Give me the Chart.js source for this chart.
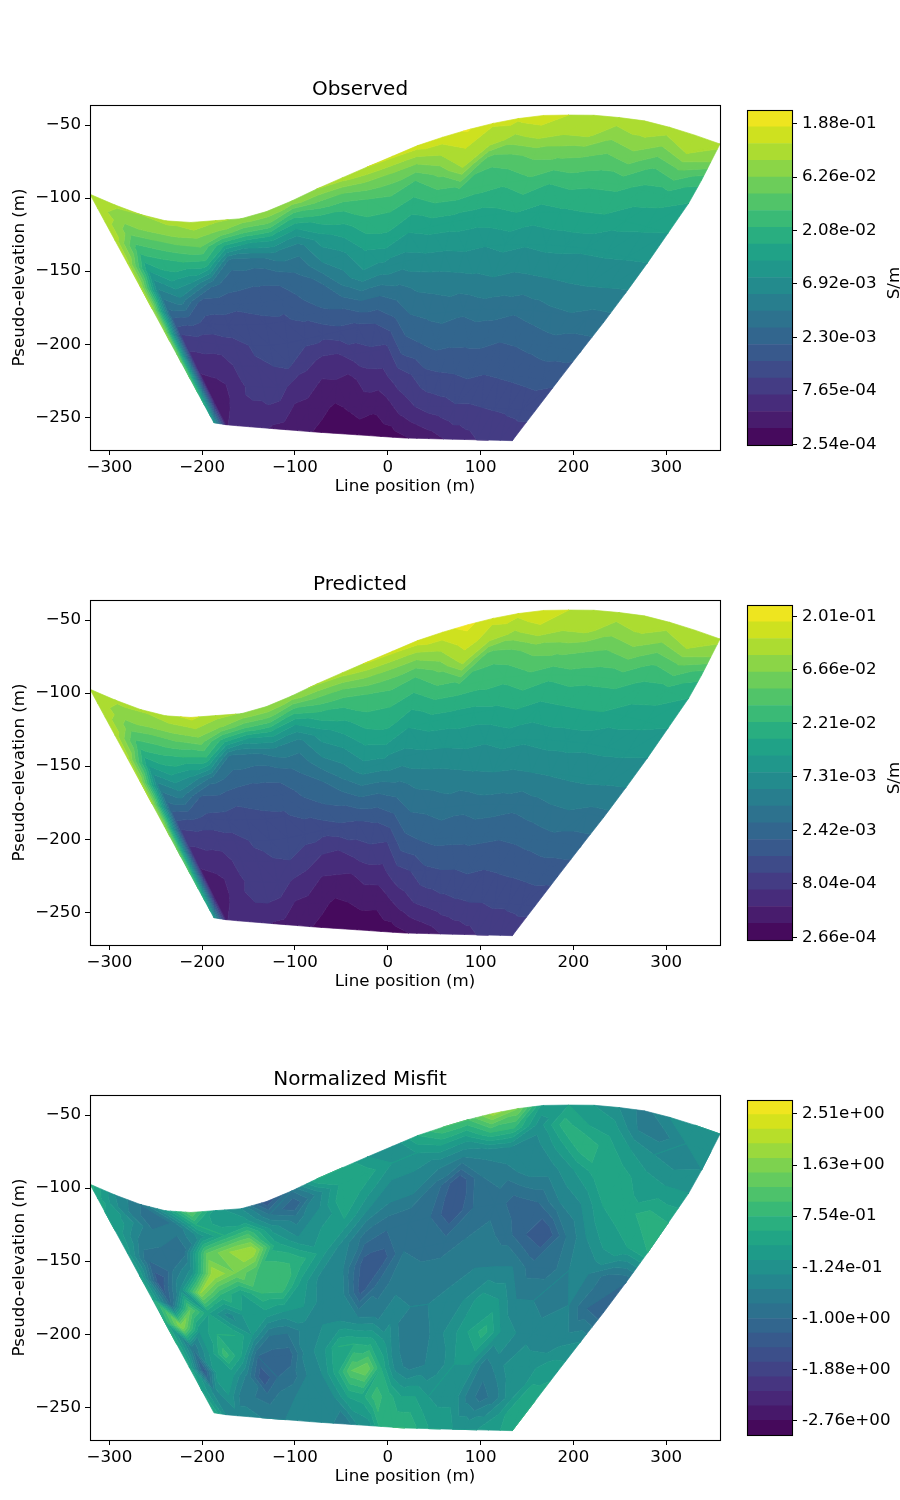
<!DOCTYPE html>
<html><head><meta charset="utf-8">
<style>html,body{margin:0;padding:0;background:#fff;width:900px;height:1500px;overflow:hidden}canvas{position:absolute}</style>
<script src="https://cdn.jsdelivr.net/npm/chart.js@4"></script>
</head><body>
<script>
// Outline of the surveyed area (metres)
const topX=[-320.9,-283,-249,-217,-153,-120,-75,-28,18.5,38,81,128,171,220,270,315,358];
const topY=[-97.4,-107.7,-115,-116.9,-113.9,-107,-93.3,-80.3,-67.8,-62.5,-54.1,-46.6,-43.2,-43.2,-46.1,-53.4,-63];
const bottomX=[-187.3,-172,-82,18.5,134.2];
const bottomY=[-253.8,-255.3,-259.9,-264.2,-266];
const rightX=[358,329,280.7,243,198,134.2];
const rightY=[-63,-99.1,-143.6,-176.6,-213.1,-266];
const depthFractions=[0,.06,.12,.2,.3,.4,.5,.6,.7,.8,.9,1];
const xTicks=[-300,-200,-100,0,100,200,300];
const yTicks=[-50,-100,-150,-200,-250];
const titles=['Observed','Predicted','Normalized Misfit'];
const obsTickLabels=['2.54e-04','7.65e-04','2.30e-03','6.92e-03','2.08e-02','6.26e-02','1.88e-01'];
const predTickLabels=['2.66e-04','8.04e-04','2.42e-03','7.31e-03','2.21e-02','6.66e-02','2.01e-01'];
const misfitTickLabels=['-2.76e+00','-1.88e+00','-1.00e+00','-1.24e-01','7.54e-01','1.63e+00','2.51e+00'];
const viridis=['#440154','#471365','#482475','#463480','#414487','#3b528b','#355f8d','#2f6c8e','#2a788e','#25848e','#21918c','#1e9c89','#22a884','#2fb47c','#44bf70','#5ec962','#7ad151','#9bd93c','#bddf26','#dfe318','#fde725'];
// Field values per survey column, top to bottom, as contour-level numbers
const observedLevels=[
[17.2,17.4,17.6,17.6,17.4,17.2,17,16.4,15.5,14.2,12.5,10.5],
[17.2,16.4,15.4,13.5,11,8.6,6.4,3.8,2.6,1.7,1.5,1.9],
[17,16.5,15,13.2,11.4,8.8,5.5,3.6,2.6,1.8,1.9,2.4],
[17.3,16.4,14.9,13,10,5.6,4.6,3.4,2.6,2.2,2.7,2.9],
[18,16.4,15,12.6,7.2,5.4,4.6,3.6,3.4,3.2,2.9,2.3],
[17.2,15.7,12,7.3,6.5,5.2,4.7,4.1,3.9,3.5,2.9,1.8],
[16.8,14.3,10.8,7.4,6.2,5.3,4.8,4.6,4,3.5,2.7,1.6],
[16.9,14.7,11.5,8.5,6.5,5.2,4.9,4.6,4.1,2.7,1.8,1.4],
[16.8,13.5,11,8.5,7.2,6.3,5.2,4.3,3.3,2.5,1.6,1.1],
[17,14.7,12.6,10.6,9,6.8,5.9,4.3,2.8,1.8,1.3,.7],
[17.5,15,13.2,11.6,9.8,8.5,6.2,4.7,2.8,1.9,.8,.3],
[18,15.8,14,12.8,11.2,9.8,7,4.7,3.5,1.7,1.1,.4],
[18.2,16,14.4,13,11.6,9.6,7,5,3.8,2.5,1.4,.5],
[18.5,16.1,14,12.6,11,9.5,7.6,5.8,3.8,2.6,1.2,.4],
[18.6,17,15.3,13.4,11.4,9.8,8.2,6.9,5.5,3.4,1.7,.5],
[19.1,18,17.1,13.6,11.5,9.9,8.4,7.2,5.9,3.9,2.5,.6],
[18.1,17.5,14.3,13.4,11.5,10.1,8.6,7.4,6.3,4.7,3,.9],
[18.2,16.7,14.7,13.2,11.7,10,8.8,7.2,6.2,4.9,3.4,1.2],
[18.6,17.4,15.3,13.8,12,10.3,9,7.5,6.2,5,3.6,1.5],
[18,17,15.3,13.2,11.6,10.1,8.8,7.4,6.2,5.2,3.9,1.9],
[17.4,17.2,15.2,13.5,11.8,10.3,8.9,7.2,6,5,3.9,2.3],
[17.6,16.2,14.8,13.3,11.9,10.3,9,7.5,6.1,5.1,4,2.6],
[17.6,16.8,15.4,13.3,11.9,10.2,9.1,7.8,6.3,5.2,4.1,3],
[17.7,16,14.2,12.7,11.4,10.2,9.1,7.9,6.5,5.3,4.2,3],
[17.5,17,14.8,12.5,11.2,10.1,9,7.6,6.4,5.4,4.3,3.3],
[17.4,16,13.4,12,11,10,8.9,7.6,6.4,5.2,4.3,3.5]];
const predictedLevels=[
[17.3,17.5,17.6,17.6,17.4,17.2,17,16.5,15.4,14.2,12.6,10.4],
[17.2,16.5,15.5,13.6,11,8.4,6.2,3.8,2.6,1.7,1.4,1.9],
[17.1,16.6,15,13.3,11.3,8.6,5.4,3.6,2.7,1.8,1.9,2.5],
[17.6,16.6,15.1,13,9.8,5.8,4.7,3.4,2.7,2.3,2.8,2.9],
[18.3,16.9,15.4,12.8,7.4,5.6,4.6,3.6,3.4,3.2,3,2.4],
[17.4,15.9,12.4,7.6,6.6,5.2,4.7,4.1,3.8,3.4,3,1.9],
[16.9,14.4,10.8,7.6,6.3,5.3,4.8,4.5,3.9,3.5,2.8,1.7],
[17,14.6,11.6,8.6,6.6,5.3,4.9,4.7,4,2.9,1.9,1.5],
[16.8,13.7,11.1,8.6,7.3,6.4,5.3,4.4,3.5,2.6,1.7,1.1],
[17.1,14.8,12.8,10.6,9,7,5.9,4.4,3,1.9,1.3,.7],
[17.5,15.1,13.3,11.7,9.9,8.3,6.3,4.8,2.9,1.9,.8,.3],
[18.1,15.9,14,12.8,11.2,9.5,7.1,4.9,3.5,1.9,1,.4],
[18.3,16.1,14.3,13,11.7,9.7,7.2,5.2,3.9,2.5,1.2,.5],
[18.6,16.2,14.1,12.6,11,9.6,7.7,5.9,3.9,2.6,1.2,.5],
[18.7,17.1,15.3,13.5,11.5,9.9,8.3,7,5.6,3.6,1.8,.5],
[19.3,18.4,17.3,13.6,11.6,10,8.5,7.2,6,4,2.5,.6],
[18.2,17.6,14.4,13.5,11.6,10.2,8.7,7.5,6.3,4.8,3.1,.9],
[18.3,16.8,14.7,13.3,11.8,10.1,8.9,7.3,6.3,5,3.4,1.2],
[18.8,17.7,15.4,13.8,12.1,10.4,9,7.6,6.3,5,3.7,1.5],
[18,17.1,15.4,13.3,11.7,10.2,8.9,7.5,6.2,5.2,3.9,2],
[17.5,17.3,15.2,13.6,11.9,10.4,9,7.3,6.1,5,4,2.3],
[17.6,16.3,14.9,13.4,12,10.4,9.1,7.6,6.2,5.1,4,2.6],
[17.6,16.9,15.4,13.4,12,10.3,9.2,7.9,6.4,5.2,4.2,3],
[17.7,16.1,14.3,12.8,11.5,10.3,9.2,8,6.6,5.3,4.2,3],
[17.5,17,14.8,12.6,11.3,10.2,9.1,7.7,6.5,5.4,4.3,3.3],
[17.4,16,13.4,12,11,10,9,7.7,6.5,5.3,4.3,3.5]];
const misfitLevels=[
[14.5,13.5,13,13,12.5,13,13.5,14,14,13.5,13,14],
[11,10.5,11.5,10,8,6,8,19,9,6.5,10.5,11],
[9,8.5,9,9,8.5,11,17,12,12,13,12,10.5],
[12,9,9,8.5,11.5,19,13,14,15.5,12,9.5,10.5],
[17,14,11.5,17,20,15,10.5,14,13,9.5,9,10],
[12.5,12.5,14,19,18,13,12.5,12,8,6,8.5,10],
[11,12.5,16,20,16,15,12.5,9,7.5,8,9.5,10],
[6,9,11.5,13.5,15.5,15.5,12,9,7.5,8.5,10,10.5],
[9,7,9.5,11,14.5,12.5,12,10.5,10.5,10,10.5,11],
[14,10.5,11,12,12.5,10.5,10.5,11,11.5,11,10.5,10.5],
[14,13.5,14,13,10.5,10,10.5,11,14,13.5,11,10],
[12,13.5,12.5,11,8.5,6.5,6.5,10,14,17,13,9],
[11,12,11,10,8,6.5,8.5,9.5,13.5,18,13.5,11],
[14,12,11,10,8,9,9.5,10.5,11.5,14,15.5,11.5],
[16,13,10.5,8.5,8,8.5,9.5,10,9.5,10.5,14.5,14.5],
[16,12.5,10,6,6,8.5,9.5,10,9,9.5,13,15],
[19.5,15,10.5,9,8,9,9.5,10.5,10.5,10,13,15],
[18,15,11,9.5,8.5,9.5,10,11,11.5,10.5,12,14],
[12.5,11.5,10.5,10.5,7.5,8.5,10,12.5,13,12,11.5,13],
[13,14.5,12.5,10.5,8,7,10,12,14.5,12,11.5,13],
[12,13,15,12,10,6,8.5,10,12,9.5,9.5,12],
[11,12.5,13.5,13.5,11,9,8.5,10,11,10.5,8.5,12],
[9.5,10,12,13.5,13,11,10,9.5,10.5,12,9.5,12],
[11,9.5,11,12.5,13.5,12.5,10,10,10.5,11.5,11.5,12.5],
[12,11,10.5,12,14.5,13,8.5,8,10.5,12.5,13.5,13],
[12,11,11,12,14,14,8,7,11,12.5,14,14]];

Chart.defaults.font.family='"DejaVu Sans"';
Chart.defaults.font.size=16.67;
Chart.defaults.color='#000';
Chart.defaults.animation=false;

function interp(x,xs,ys){
  const s=xs[0]<xs[xs.length-1];
  for(let i=0;i<xs.length-1;i++){
    const a=xs[i],b=xs[i+1];
    if((s&&x<=b)||(!s&&x>=b)){const t=(x-a)/(b-a);return ys[i]+t*(ys[i+1]-ys[i]);}
  }
  return ys[ys.length-1];
}
function meshNode(j,n,v){
  const u=j/(n-1);
  const xT=topX[0]+u*(topX[topX.length-1]-topX[0]), yT=interp(xT,topX,topY);
  const xB=bottomX[0]+u*(bottomX[bottomX.length-1]-bottomX[0]), yB=interp(xB,bottomX,bottomY);
  const xR0=topX[topX.length-1], yR0=topY[topY.length-1], xR1=bottomX[bottomX.length-1], yR1=bottomY[bottomY.length-1];
  const ye=yR0+v*(yR1-yR0), xe=xR0+v*(xR1-xR0);
  const bulge=interp(-ye,rightY.map(y=>-y),rightX)-xe;
  return [xT+v*(xB-xT)+u*bulge, yT+v*(yB-yT)];
}
function clip(poly,level,above){
  const out=[];
  for(let i=0;i<poly.length;i++){
    const a=poly[i],b=poly[(i+1)%poly.length];
    const ia=above?a[2]>=level:a[2]<=level, ib=above?b[2]>=level:b[2]<=level;
    if(ia)out.push(a);
    if(ia!==ib){const t=(level-a[2])/(b[2]-a[2]);out.push([a[0]+t*(b[0]-a[0]),a[1]+t*(b[1]-a[1]),level]);}
  }
  return out;
}
function contourBands(grid,nBands){
  const bands=Array.from({length:nBands},()=>[]);
  const nc=grid.length,nr=depthFractions.length;
  const P=grid.map((col,j)=>col.map((z,r)=>{const p=meshNode(j,nc,depthFractions[r]);return [p[0],p[1],z];}));
  function tri(a,b,c){
    for(let k=0;k<nBands;k++){
      let poly=[a,b,c];
      if(k>0)poly=clip(poly,k,true);
      if(poly.length&&k<nBands-1)poly=clip(poly,k+1,false);
      if(poly.length>=3){poly.forEach(p=>bands[k].push({x:p[0],y:p[1]}));bands[k].push({x:null,y:null});}
    }
  }
  for(let j=0;j<nc-1;j++)for(let r=0;r<nr-1;r++){
    const a=P[j][r],b=P[j+1][r],c=P[j+1][r+1],d=P[j][r+1];
    if(Math.abs(a[2]-c[2])<=Math.abs(b[2]-d[2])){tri(a,b,c);tri(a,c,d);}else{tri(a,b,d);tri(b,c,d);}
  }
  return bands;
}
function bandColor(i,n){
  const t=(i+.5)/n*(viridis.length-1),k=Math.floor(t),f=t-k;
  const h=s=>[1,3,5].map(q=>parseInt(s.substr(q,2),16));
  const a=h(viridis[k]),b=h(viridis[k+1]);
  return 'rgb('+a.map((v,q)=>Math.round(v+f*(b[q]-v))).join(',')+')';
}
const contourFill={id:'contourFill',beforeDatasetsDraw(chart){
  const c=chart.ctx,A=chart.chartArea;
  c.save();c.beginPath();c.rect(A.left,A.top,A.right-A.left,A.bottom-A.top);c.clip();
  chart.data.datasets.forEach((ds,i)=>{
    c.fillStyle=ds.backgroundColor;c.strokeStyle=ds.backgroundColor;c.lineWidth=.7;c.lineJoin='round';
    c.beginPath();let open=false;
    chart.getDatasetMeta(i).data.forEach(pt=>{
      if(pt.skip||isNaN(pt.x)||isNaN(pt.y)){if(open)c.closePath();open=false;return;}
      if(!open){c.moveTo(pt.x,pt.y);open=true;}else c.lineTo(pt.x,pt.y);
    });
    c.fill();c.stroke();
  });
  c.restore();
}};
const frame={id:'frame',afterDraw(chart){
  const c=chart.ctx,A=chart.chartArea;
  c.save();c.strokeStyle='#000';c.lineWidth=1.1;
  c.strokeRect(Math.round(A.left)+.5,Math.round(A.top)+.5,Math.round(A.right-A.left),Math.round(A.bottom-A.top));
  c.restore();
}};
function addCanvas(l,t,w,h){
  const e=document.createElement('canvas');e.width=w;e.height=h;
  e.style.left=l+'px';e.style.top=t+'px';e.style.width=w+'px';e.style.height=h+'px';
  document.body.appendChild(e);return e.getContext('2d');
}
const tickGrid={drawOnChartArea:false,drawTicks:true,tickLength:5,tickWidth:1,tickColor:'#000',color:'#000'};
const minusLabel=v=>String(v).replace('-','\u2212');
function panel(offset,title,grid,nBands){
  const bands=contourBands(grid,nBands);
  new Chart(addCanvas(0,60+offset,740,438),{
    type:'scatter',
    data:{datasets:bands.map((pts,i)=>({label:'level '+i,data:pts,backgroundColor:bandColor(i,nBands),borderColor:bandColor(i,nBands),showLine:false,pointRadius:0,pointHoverRadius:0,pointHitRadius:0}))},
    plugins:[contourFill,frame],
    options:{responsive:false,events:[],
      layout:{autoPadding:false,padding:{left:0,right:20,top:0,bottom:0}},
      plugins:{legend:{display:false},tooltip:{enabled:false},
        title:{display:true,text:title,color:'#000',font:{size:20,weight:'normal',lineHeight:1.2},padding:{top:18,bottom:3}}},
      scales:{
        x:{type:'linear',position:'bottom',min:-320.9,max:358,grid:tickGrid,border:{color:'#000',width:1},
          afterBuildTicks(s){s.ticks=xTicks.map(value=>({value}));},
          afterFit(s){s.height=48;},
          ticks:{padding:3,autoSkip:false,maxRotation:0,color:'#000',callback:minusLabel},
          title:{display:true,text:'Line position (m)',color:'#000',padding:{top:0,bottom:1.5}}},
        y:{type:'linear',position:'left',min:-272.4,max:-36.3,grid:tickGrid,border:{color:'#000',width:1},
          afterBuildTicks(s){s.ticks=yTicks.map(value=>({value}));},
          afterFit(s){s.width=90;},
          ticks:{padding:4,autoSkip:false,color:'#000',callback:minusLabel},
          title:{display:true,text:'Pseudo-elevation (m)',color:'#000',padding:{top:10,bottom:0}}}
      }}
  });
}
function colorbar(offset,labels,toValue,barMin,barMax,nBands,unit){
  const edges=[];for(let i=0;i<=nBands;i++)edges.push(barMin+i*(barMax-barMin)/nBands);
  const unitText={id:'unitText',afterDraw(chart){
    if(!unit)return;const c=chart.ctx;
    c.save();c.translate(155,188);c.rotate(-Math.PI/2);c.fillStyle='#000';c.font='16.67px "DejaVu Sans"';c.textAlign='center';c.textBaseline='middle';c.fillText(unit,0,0);c.restore();
  }};
  new Chart(addCanvas(740,95+offset,160,365),{
    type:'bar',
    data:{labels:[''],datasets:edges.slice(0,-1).map((lo,i)=>({label:'band '+i,data:[[lo,edges[i+1]]],backgroundColor:bandColor(i,nBands),borderWidth:0,grouped:false,barPercentage:1,categoryPercentage:1}))},
    plugins:[frame,unitText],
    options:{responsive:false,events:[],
      layout:{autoPadding:false,padding:{left:7,right:0,top:10,bottom:10}},
      plugins:{legend:{display:false},tooltip:{enabled:false}},
      scales:{
        x:{display:false},
        y:{type:'linear',position:'right',min:barMin,max:barMax,grid:tickGrid,border:{color:'#000',width:1},
          afterBuildTicks(s){s.ticks=labels.map(l=>({value:toValue(l)}));},
          afterFit(s){s.width=108;},
          ticks:{padding:5,autoSkip:false,color:'#000',callback:(v,i)=>labels[i]}}
      }}
  });
}
const logValue=l=>Math.log10(parseFloat(l));
panel(0,titles[0],observedLevels,20);
colorbar(0,obsTickLabels,logValue,-3.601,-.603,20,'S/m');
panel(495,titles[1],predictedLevels,20);
colorbar(495,predTickLabels,logValue,-3.5983,-.5947,20,'S/m');
panel(990,titles[2],misfitLevels,23);
colorbar(990,misfitTickLabels,parseFloat,-3.0046,2.7487,23,'');
</script>
</body></html>
